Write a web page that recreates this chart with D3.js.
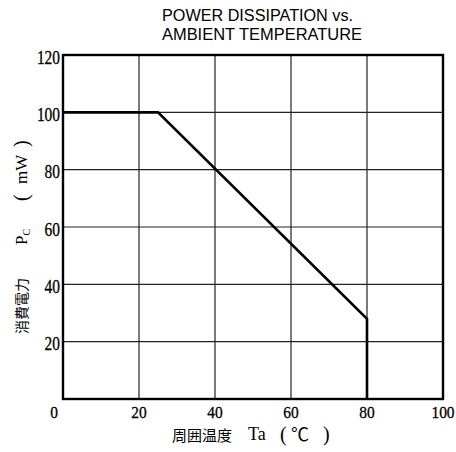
<!DOCTYPE html>
<html>
<head>
<meta charset="utf-8">
<script src="https://cdn.jsdelivr.net/npm/d3@7"></script>
<style>
  body { margin: 0; background: #fff; }
</style>
</head>
<body>
<div id="chart"></div>
<script>
// data
const tempC = [0, 25, 80, 80];
const powerMW = [100, 100, 28, 0];
const xTicks = [0, 20, 40, 60, 80, 100];
const yTicks = [0, 20, 40, 60, 80, 100, 120];
const titleLines = ["POWER DISSIPATION vs.", "AMBIENT TEMPERATURE"];

const dims = { width: 456, height: 452 };
const plot = { left: 63, right: 443, top: 55, bottom: 399 };

const svg = d3.select("#chart")
  .append("svg")
  .attr("width", dims.width)
  .attr("height", dims.height);

const x = d3.scaleLinear().domain([0, 100]).range([plot.left, plot.right]);
const y = d3.scaleLinear().domain([0, 120]).range([plot.bottom, plot.top]);

// grid
svg.append("g")
  .selectAll("line")
  .data(xTicks)
  .enter()
  .append("line")
  .attr("x1", d => x(d)).attr("x2", d => x(d))
  .attr("y1", plot.top).attr("y2", plot.bottom)
  .attr("stroke", "#222").attr("stroke-width", 1.2);

svg.append("g")
  .selectAll("line")
  .data(yTicks)
  .enter()
  .append("line")
  .attr("y1", d => y(d)).attr("y2", d => y(d))
  .attr("x1", plot.left).attr("x2", plot.right)
  .attr("stroke", "#222").attr("stroke-width", 1.2);

// frame
svg.append("rect")
  .attr("x", plot.left).attr("y", plot.top)
  .attr("width", plot.right - plot.left)
  .attr("height", plot.bottom - plot.top)
  .attr("fill", "none")
  .attr("stroke", "#000")
  .attr("stroke-width", 2.4);

// derating curve
const lineGen = d3.line().x((d, i) => x(tempC[i])).y(d => y(d));
svg.append("path")
  .attr("d", lineGen(powerMW))
  .attr("fill", "none")
  .attr("stroke", "#000")
  .attr("stroke-width", 2.6)
  .attr("stroke-linejoin", "miter");

// tick labels (tall, narrow serif digits)
const serif = "'Liberation Serif', 'DejaVu Serif', serif";
const digitW = 7.7;

svg.append("g")
  .selectAll("text")
  .data(yTicks.filter(d => d > 0))
  .enter()
  .append("text")
  .attr("x", plot.left - 3)
  .attr("y", d => y(d) + 8.5)
  .attr("text-anchor", "end")
  .attr("font-family", serif)
  .attr("font-size", 18)
  .attr("stroke", "#000").attr("stroke-width", 0.3)
  .attr("textLength", d => String(d).length * digitW)
  .attr("lengthAdjust", "spacingAndGlyphs")
  .text(d => d);

svg.append("g")
  .selectAll("text")
  .data(xTicks)
  .enter()
  .append("text")
  .attr("x", d => d === 0 ? x(d) - 9 : x(d))
  .attr("y", 418)
  .attr("text-anchor", "middle")
  .attr("font-family", serif)
  .attr("font-size", 17)
  .attr("stroke", "#000").attr("stroke-width", 0.3)
  .attr("textLength", d => String(d).length * digitW)
  .attr("lengthAdjust", "spacingAndGlyphs")
  .text(d => d);

// title
const titleW = [191, 200];
svg.append("g")
  .selectAll("text")
  .data(titleLines)
  .enter()
  .append("text")
  .attr("x", 162)
  .attr("y", (d, i) => 20.5 + i * 19)
  .attr("font-family", "'Liberation Sans', Arial, sans-serif")
  .attr("font-size", 16)
  .attr("textLength", (d, i) => titleW[i])
  .attr("lengthAdjust", "spacingAndGlyphs")
  .text(d => d);

// axis titles
const cjk = "'Noto Sans CJK JP', 'Noto Sans CJK SC', sans-serif";
const xTitle = svg.append("g");
xTitle.append("text").attr("x", 172).attr("y", 441)
  .attr("font-family", cjk).attr("font-size", 15)
  .text("周囲温度");
xTitle.append("text").attr("x", 248).attr("y", 440)
  .attr("font-family", serif).attr("font-size", 18)
  .text("Ta");
xTitle.append("text").attr("x", 280).attr("y", 441)
  .attr("font-family", serif).attr("font-size", 20).text("(");
xTitle.append("text").attr("x", 291).attr("y", 441)
  .attr("font-family", cjk).attr("font-size", 18).text("℃");
xTitle.append("text").attr("x", 323).attr("y", 441)
  .attr("font-family", serif).attr("font-size", 20).text(")");

const yTitle = svg.append("g").attr("transform", "translate(27, 0) rotate(-90)");
yTitle.append("text").attr("x", -334).attr("y", 0)
  .attr("font-family", cjk).attr("font-size", 14)
  .text("消費電力");
const pc = yTitle.append("text").attr("x", -245).attr("y", 0)
  .attr("font-family", serif).attr("font-size", 17);
pc.append("tspan").text("P");
pc.append("tspan").attr("font-size", 10).attr("dy", 3).text("C");
yTitle.append("text").attr("x", -201).attr("y", 1)
  .attr("font-family", serif).attr("font-size", 20).text("(");
yTitle.append("text").attr("x", -184).attr("y", 0)
  .attr("font-family", serif).attr("font-size", 17).text("mW");
yTitle.append("text").attr("x", -147).attr("y", 1)
  .attr("font-family", serif).attr("font-size", 20).text(")");
</script>
</body>
</html>
